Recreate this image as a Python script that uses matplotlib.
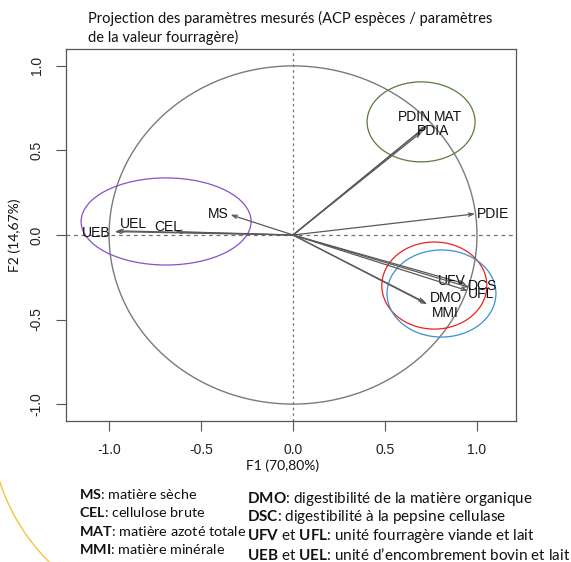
import matplotlib
matplotlib.use("Agg")
import matplotlib.pyplot as plt
import numpy as np
from matplotlib.patches import Ellipse, Circle, Arc

# Variables projected on the F1/F2 plane
labels = ["MS", "CEL", "UEL", "UEB", "PDIN", "MAT", "PDIA", "PDIE",
          "UFV", "DCS", "UFL", "DMO", "MMI"]
f1 = [-0.34, -0.64, -0.96, -0.97, 0.72, 0.73, 0.70, 0.99,
      0.94, 0.96, 0.95, 0.72, 0.73]
f2 = [0.12, 0.02, 0.025, 0.02, 0.64, 0.65, 0.61, 0.125,
      -0.29, -0.31, -0.33, -0.40, -0.41]

# groups circled on the chart: centre F1, centre F2, width, height
group_cx = [-0.69, 0.696, 0.768, 0.807]
group_cy = [0.08, 0.669, -0.299, -0.346]
group_w = [0.924, 0.587, 0.571, 0.592]
group_h = [0.515, 0.473, 0.515, 0.515]
group_colors = ["#8a4fc8", "#5a7a3a", "#ee2020", "#3a8fd8"]

ticks = [-1.0, -0.5, 0.0, 0.5, 1.0]
tick_labels = ["-1.0", "-0.5", "0.0", "0.5", "1.0"]

title = ("Projection des paramètres mesurés (ACP espèces / paramètres\n"
         "de la valeur fourragère)")
xlab = "F1 (70,80%)"
ylab = "F2 (14,67%)"

legend_left = [r"$\mathbf{MS}$: matière sèche",
               r"$\mathbf{CEL}$: cellulose brute",
               r"$\mathbf{MAT}$: matière azoté totale",
               r"$\mathbf{MMI}$: matière minérale"]
legend_right = [r"$\mathbf{DMO}$: digestibilité de la matière organique",
                r"$\mathbf{DSC}$: digestibilité à la pepsine cellulase",
                r"$\mathbf{UFV}$ et $\mathbf{UFL}$: unité fourragère viande et lait",
                r"$\mathbf{UEB}$ et $\mathbf{UEL}$: unité d’encombrement bovin et lait"]

# label offsets from arrow tips (pixels)
label_off = {"MS": (-12, 1), "CEL": (-8, 5), "UEL": (17, 7), "UEB": (-18, -1),
             "PDIN": (-11, 10), "MAT": (21, 8), "PDIA": (11, 1), "PDIE": (18, 0),
             "UFV": (-14, 3), "DCS": (13, 1), "UFL": (13, -3),
             "DMO": (21, 5), "MMI": (18, -9)}

plt.rcParams["mathtext.fontset"] = "custom"
plt.rcParams["mathtext.bf"] = "Lato:bold"
plt.rcParams["mathtext.rm"] = "Lato"

W, H = 571, 562
fig = plt.figure(figsize=(W / 100, H / 100), dpi=100)
ax = fig.add_axes([66 / W, 1 - 421 / H, 450 / W, 372 / H])
ax.set_xlim(-1.234, 1.212)
ax.set_ylim(-1.10, 1.10)

ax.axhline(0, color="#707070", lw=0.9, ls=(0, (3, 3)))
ax.axvline(0, color="#707070", lw=0.9, ls=(0, (2, 2.5)))
ax.add_patch(Circle((0, 0), 1, fill=False, ec="#7a7a7a", lw=1.0))

for lab, x, y in zip(labels, f1, f2):
    ax.annotate("", xy=(x, y), xytext=(0, 0),
                arrowprops=dict(arrowstyle="->,head_length=0.35,head_width=0.12",
                                color="#5a5a5a", lw=0.9, shrinkA=0, shrinkB=0))
    dx, dy = label_off[lab]
    ax.annotate(lab, xy=(x, y), xytext=(dx, dy), textcoords="offset pixels",
                ha="center", va="center", fontsize=10,
                family="Liberation Sans", color="#111111")

for cx, cy, w, h, c in zip(group_cx, group_cy, group_w, group_h, group_colors):
    ax.add_patch(Ellipse((cx, cy), w, h, fill=False, ec=c, lw=0.9))

ax.set_xticks(ticks)
ax.set_xticklabels(tick_labels, family="Liberation Sans", fontsize=10)
ax.set_yticks(ticks)
ax.set_yticklabels(tick_labels, family="Liberation Sans", fontsize=10,
                   rotation=90, va="center")
ax.tick_params(direction="out", length=7, width=0.8, color="#555555",
               labelcolor="#222222", pad=9)
for s in ax.spines.values():
    s.set_color("#555555")
    s.set_linewidth(0.9)

fig.text(88 / W, 1 - 28 / H, title, family="Lato", fontsize=10.5,
         ha="left", va="center", linespacing=1.35, color="#111111")
fig.text(283 / W, 1 - 466 / H, xlab, family="Lato", fontsize=10,
         ha="center", va="center", color="#111111")
fig.text(15 / W, 1 - 235 / H, ylab, family="Lato", fontsize=10,
         ha="center", va="center", rotation=90, color="#111111")

for i, t in enumerate(legend_left):
    fig.text(79 / W, 1 - (494 + 18.3 * i) / H, t, family="Lato",
             fontsize=10.4, ha="left", va="center", color="#111111")
for i, t in enumerate(legend_right):
    fig.text(247 / W, 1 - (499 + 18.5 * i) / H, t, family="Lato",
             fontsize=11, ha="left", va="center", color="#111111")

# slide decoration in the lower left corner
deco = fig.add_axes([0, 0, 1, 1], zorder=-1)
deco.set_xlim(0, W)
deco.set_ylim(H, 0)
deco.axis("off")
deco.add_patch(Arc((190, 420), 400, 400, theta1=118, theta2=165,
                   color="#f5c242", lw=1.0))

fig.savefig("out.png", dpi=100)
